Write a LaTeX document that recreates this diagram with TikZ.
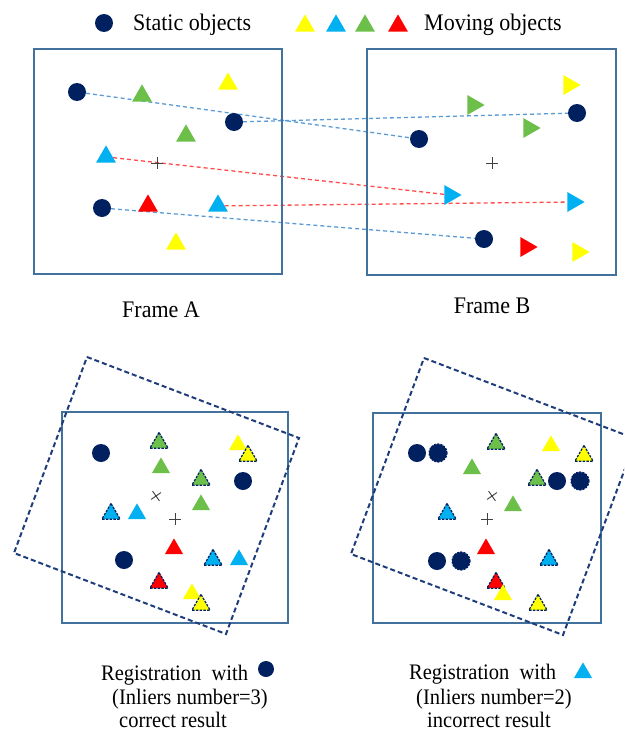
\documentclass[tikz,border=0pt]{standalone}
\usepackage{fontspec}
\setmainfont{Liberation Serif}
\usetikzlibrary{shapes.geometric,backgrounds}
\definecolor{navy}{HTML}{002060}
\definecolor{dnavy}{HTML}{1F3D7A}
\definecolor{framecol}{HTML}{41719C}
\definecolor{tyellow}{HTML}{FFFF00}
\definecolor{tblue}{HTML}{00B0F0}
\definecolor{tgreen}{HTML}{6CC04A}
\definecolor{tred}{HTML}{FF0000}
\definecolor{linkblue}{HTML}{5B9BD5}
\definecolor{linkred}{HTML}{FF4B4B}
\definecolor{markgray}{HTML}{404040}
\newcommand{\tallt}[1]{\scalebox{1}[1.08]{#1}}
\tikzset{
  circ/.style={circle, fill=navy, minimum size=18pt, inner sep=0pt, outer sep=0pt},
  dcirc/.style={circ, draw=navy, line width=1.2pt, dash pattern=on 2pt off 1.2pt},
  tri/.style={regular polygon, regular polygon sides=3, minimum size=23pt, inner sep=0pt, outer sep=0pt, yshift=-2.9pt},
  stri/.style={tri, minimum size=21pt},
  dtri/.style={stri, draw=navy, line width=1.2pt, dash pattern=on 2.5pt off 1.2pt},
  rtri/.style={regular polygon, regular polygon sides=3, shape border rotate=-90, minimum size=23pt, inner sep=0pt, outer sep=0pt, xshift=-2.9pt},
  frame/.style={draw=framecol, line width=2pt},
  regframe/.style={draw=framecol, line width=1.6pt},
  rotframe/.style={draw=dnavy, line width=2pt, dash pattern=on 5pt off 3pt},
  bluelink/.style={draw=linkblue, line width=1.3pt, dash pattern=on 4pt off 3pt},
  redlink/.style={draw=linkred, line width=1.3pt, dash pattern=on 4pt off 3pt},
  crossmark/.style={draw=markgray, line width=0.9pt},
  lbl/.style={inner sep=0pt, anchor=base west, font=\fontsize{22}{26}\selectfont},
  blbl/.style={inner sep=0pt, anchor=base west, font=\fontsize{20.5}{24}\selectfont},
}
\begin{document}
\begin{tikzpicture}[x=1pt,y=-1pt]
\useasboundingbox (0,0) rectangle (624,731);
\clip (0,0) rectangle (624,731);

% legend
\node[circ] (lc) at (104,23) {};
\node[lbl] (lst) at (133,30) {\tallt{Static objects}};
\node[tri,fill=tyellow] (ly) at (305,23) {};
\node[tri,fill=tblue] (lb) at (336,23) {};
\node[tri,fill=tgreen] (lg) at (365,23) {};
\node[tri,fill=tred] (lr) at (398,23) {};
\node[lbl] (lmv) at (424,30) {\tallt{Moving objects}};

% frames
\draw[frame] (34,49) rectangle (282,274);
\draw[frame] (367,49) rectangle (616,275);
\node[lbl, anchor=base] (fa) at (161,317) {\tallt{Frame A}};
\node[lbl, anchor=base] (fb) at (492,313) {\tallt{Frame B}};

% frame A objects
\node[circ] (a1) at (77,92) {};
\node[tri,fill=tgreen] (a2) at (142,93) {};
\node[tri,fill=tyellow] (a3) at (228,81) {};
\node[circ] (a4) at (234,122) {};
\node[tri,fill=tgreen] (a5) at (186,133) {};
\node[tri,fill=tblue] (a6) at (106,154) {};
\node[tri,fill=tred] (a7) at (148,203) {};
\node[tri,fill=tblue] (a8) at (218,203) {};
\node[circ] (a9) at (102,208) {};
\node[tri,fill=tyellow] (a10) at (176,241) {};
\draw[crossmark] (157,157) -- (157,169) (151,163) -- (163,163);

% frame B objects
\node[rtri,fill=tyellow] (b1) at (572,85) {};
\node[rtri,fill=tgreen] (b2) at (476,105) {};
\node[circ] (b3) at (577,113) {};
\node[rtri,fill=tgreen] (b4) at (532,128) {};
\node[circ] (b5) at (419,139) {};
\node[rtri,fill=tblue] (b6) at (453,195) {};
\node[rtri,fill=tblue] (b7) at (576,202) {};
\node[circ] (b8) at (484,239) {};
\node[rtri,fill=tred] (b9) at (529,247) {};
\node[rtri,fill=tyellow] (b10) at (581,252) {};
\draw[crossmark] (492,157) -- (492,169) (486,163) -- (498,163);

\begin{scope}[on background layer]
  \draw[bluelink] (a1) -- (b5);
  \draw[bluelink] (a4) -- (b3);
  \draw[redlink] (a6) -- (b6);
  \draw[redlink] (a8) -- (b7);
  \draw[bluelink] (a9) -- (b8);
\end{scope}

% bottom left
\draw[regframe] (62,412) rectangle (288,623);
\draw[rotframe] (87,357) -- (299,438) -- (226,634) -- (14,553) -- cycle;
\node[circ] (c1) at (101,453) {};
\node[dtri,fill=tgreen] (c2) at (159,440) {};
\node[stri,fill=tgreen] (c3) at (161,465) {};
\node[stri,fill=tyellow] (c4) at (238,442) {};
\node[dtri,fill=tyellow] (c5) at (248,453) {};
\node[dtri,fill=tgreen] (c6) at (201,477) {};
\node[circ] (c7) at (243,481) {};
\draw[crossmark, rotate around={35:(156,496)}] (156,490) -- (156,502) (150,496) -- (162,496);
\node[stri,fill=tgreen] (c8) at (201,502) {};
\node[dtri,fill=tblue] (c9) at (111,511) {};
\node[stri,fill=tblue] (c10) at (137,511) {};
\draw[crossmark] (175,513) -- (175,525) (169,519) -- (181,519);
\node[stri,fill=tred] (c11) at (174,546) {};
\node[dtri,fill=tblue] (c12) at (213,557) {};
\node[stri,fill=tblue] (c13) at (239,557) {};
\node[circ] (c14) at (124,560) {};
\node[dtri,fill=tred] (c15) at (159,580) {};
\node[stri,fill=tyellow] (c16) at (192,591) {};
\node[dtri,fill=tyellow] (c17) at (201,602) {};

% bottom right
\draw[regframe] (373,413) rectangle (601,623);
\draw[rotframe] (424,358) -- (636,439) -- (563,635) -- (351,554) -- cycle;
\node[circ] (d1) at (417,453) {};
\node[dcirc] (d2) at (438,453) {};
\node[dtri,fill=tgreen] (d3) at (496,441) {};
\node[stri,fill=tyellow] (d4) at (551,443) {};
\node[dtri,fill=tyellow] (d5) at (584,453) {};
\node[stri,fill=tgreen] (d6) at (472,466) {};
\node[dtri,fill=tgreen] (d7) at (537,477) {};
\node[circ] (d8) at (557,481) {};
\node[dcirc] (d9) at (580,481) {};
\draw[crossmark, rotate around={35:(492,496)}] (492,490) -- (492,502) (486,496) -- (498,496);
\node[stri,fill=tgreen] (d10) at (513,503) {};
\node[dtri,fill=tblue] (d11) at (447,511) {};
\draw[crossmark] (487,513) -- (487,525) (481,519) -- (493,519);
\node[stri,fill=tred] (d12) at (486,546) {};
\node[dtri,fill=tblue] (d13) at (549,557) {};
\node[circ] (d14) at (437,561) {};
\node[dcirc] (d15) at (461,561) {};
\node[dtri,fill=tred] (d17) at (496,580) {};
\node[stri,fill=tyellow] (d16) at (503,592) {};
\node[dtri,fill=tyellow] (d18) at (538,602) {};

% bottom captions
\node[blbl] (t1) at (101,680) {\tallt{Registration\ \ with}};
\node[circ, minimum size=16pt] (t1s) at (266,669) {};
\node[blbl] (t2) at (112,704) {\tallt{(Inliers number=3)}};
\node[blbl] (t3) at (119,727) {\tallt{correct result}};
\node[blbl] (u1) at (409,679) {\tallt{Registration\ \ with}};
\node[stri,fill=tblue] (u1s) at (583,670) {};
\node[blbl] (u2) at (416,704) {\tallt{(Inliers number=2)}};
\node[blbl] (u3) at (427,727) {\tallt{incorrect result}};
\end{tikzpicture}
\end{document}
